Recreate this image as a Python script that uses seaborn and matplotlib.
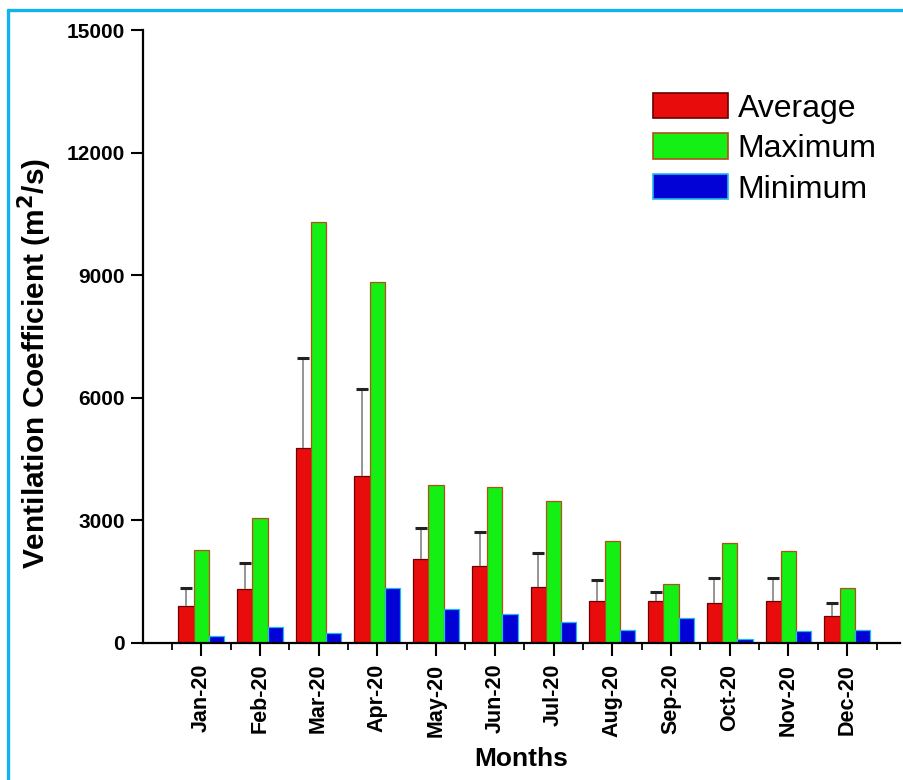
import numpy as np
import pandas as pd
import matplotlib
matplotlib.use("Agg")
import matplotlib.pyplot as plt
from matplotlib.lines import Line2D
import seaborn as sns

months = ["Jan-20", "Feb-20", "Mar-20", "Apr-20", "May-20", "Jun-20",
          "Jul-20", "Aug-20", "Sep-20", "Oct-20", "Nov-20", "Dec-20"]
average = [895, 1320, 4775, 4080, 2065, 1885, 1360, 1035, 1035, 985, 1020, 660]
average_err_top = [1345, 1955, 6965, 6215, 2825, 2715, 2210, 1540, 1255, 1600, 1590, 970]
maximum = [2265, 3065, 10310, 8840, 3865, 3810, 3480, 2490, 1445, 2455, 2260, 1345]
minimum = [160, 385, 250, 1350, 840, 700, 505, 325, 605, 100, 285, 325]

series = ["Average", "Maximum", "Minimum"]
colors = {"Average": "#e80c0c", "Maximum": "#14f014", "Minimum": "#0202d6"}
edges = {"Average": "#6a0000", "Maximum": "#b0501a", "Minimum": "#22b8e8"}

df = pd.DataFrame({
    "Month": months * 3,
    "Series": np.repeat(series, len(months)),
    "Value": average + maximum + minimum,
})

sns.set_style("ticks")
plt.rcParams["font.family"] = ["Liberation Sans", "DejaVu Sans"]
plt.rcParams["text.color"] = "black"
plt.rcParams["axes.labelcolor"] = "black"
plt.rcParams["xtick.color"] = "black"
plt.rcParams["ytick.color"] = "black"

fig = plt.figure(figsize=(9.04, 7.8), dpi=100)
ax = fig.add_axes([143 / 904, 1 - 643 / 780, (900 - 143) / 904, (643 - 30) / 780])

sns.barplot(data=df, x="Month", y="Value", hue="Series", hue_order=series,
            palette=colors, width=0.78, ax=ax, legend=False, saturation=1)

for cont, name in zip(ax.containers, series):
    for p in cont:
        p.set_edgecolor(edges[name])
        p.set_linewidth(0.9)

# upper error bars on the Average bars
xs = [p.get_x() + p.get_width() / 2 for p in ax.containers[0]]
up = np.array(average_err_top) - np.array(average)
_, caps, bars = ax.errorbar(xs, average, yerr=[np.zeros(len(up)), up], fmt="none",
                            ecolor="#8c8c8c", elinewidth=1.3, capsize=4.6,
                            capthick=2.2, zorder=1)
for c in caps:
    c.set_color("#222222")
    c.set_markeredgecolor("#222222")
    if np.all(np.array(c.get_ydata()) <= np.array(average) + 1):
        c.set_visible(False)

ax.set_xlim(-0.99, 11.9)
ax.set_ylim(0, 15000)
ax.set_yticks(np.arange(0, 15001, 3000))
ax.set_xticks(np.arange(-0.5, 12.5, 1), minor=True)
sns.despine(ax=ax)
for s in ["left", "bottom"]:
    ax.spines[s].set_linewidth(1.6)
    ax.spines[s].set_color("black")

ax.tick_params(axis="both", which="major", length=9, width=1.5, color="black",
               labelcolor="black", labelsize=15, pad=4)
ax.tick_params(axis="x", which="minor", length=5, width=1.3, color="black")
ax.tick_params(axis="x", which="major", pad=6, labelsize=15.5)
for lab in ax.get_xticklabels():
    lab.set_rotation(90)
    lab.set_fontweight("bold")
for lab in ax.get_yticklabels():
    lab.set_fontweight("bold")

ax.set_xlabel("Months", fontsize=19, fontweight="bold", color="black")
ax.xaxis.set_label_coords(0.5, -(747 - 643) / 613)
ax.set_ylabel("Ventilation Coefficient (m$^{\\mathbf{2}}$/s)", fontsize=21.5,
              fontweight="bold", color="black")
ax.yaxis.set_label_coords(-(143 - 54) / 757, (643 - 363) / 613)

handles = [plt.Rectangle((0, 0), 1, 1, facecolor=colors[s], edgecolor=edges[s],
                         linewidth=1.2) for s in series]
fig.legend(handles, series, loc="upper left", bbox_to_anchor=(653 / 904, 1 - 93 / 780),
           frameon=False, fontsize=23, handlelength=2.35, handleheight=0.85,
           handletextpad=0.3, labelspacing=0.3, borderpad=0, borderaxespad=0)

# blue frame around the figure
fig.add_artist(Line2D([7.5 / 904, 7.5 / 904], [0, 1 - 9.5 / 780], color="#12b2ee",
                      lw=2.4, transform=fig.transFigure))
fig.add_artist(Line2D([7.5 / 904, 1], [1 - 9.5 / 780, 1 - 9.5 / 780], color="#12b2ee",
                      lw=2.4, transform=fig.transFigure))

fig.savefig("out.png", dpi=100)
